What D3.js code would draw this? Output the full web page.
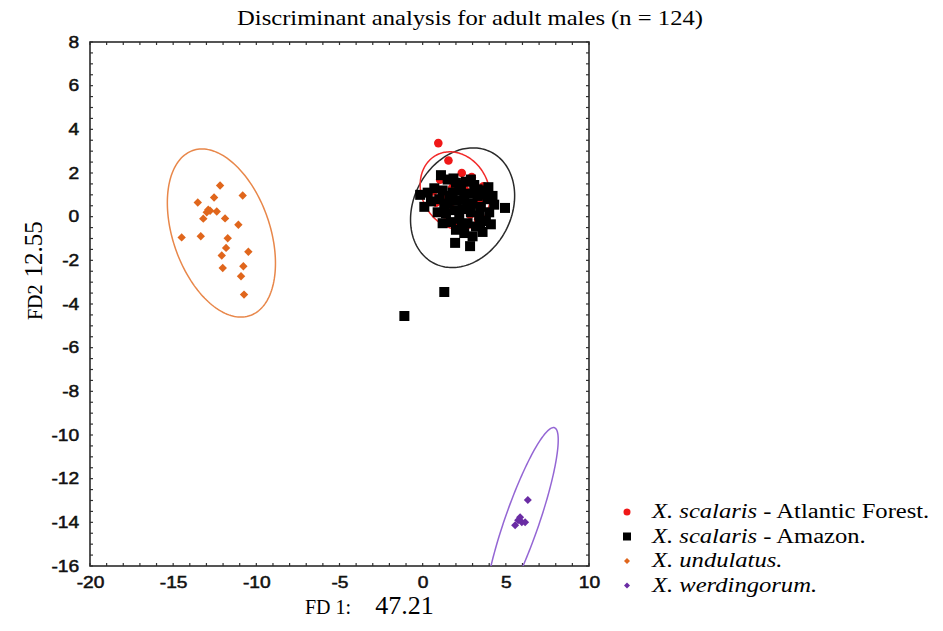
<!DOCTYPE html>
<html>
<head>
<meta charset="utf-8">
<script src="https://cdn.jsdelivr.net/npm/d3@7"></script>
<style>
  body { margin: 0; background: #fff; }
  svg { display: block; }
</style>
</head>
<body>
<script>

// ---- data ----
var atlantic = [
  [0.94, 3.37], [1.55, 2.57], [2.35, 2.0], [2.95, 1.81], [1.05, 1.69], [0.64, 1.16],
  [0.94, 0.78], [1.35, 1.0], [3.65, 1.39], [2.13, 0.18], [3.45, 0.78], [0.8, 0.64],
  [1.65, 0.55], [2.55, 1.23], [2.85, 0.09], [1.95, -0.37], [3.15, 1.0], [1.35, 0.1],
  [2.37, 0.78], [2.73, 1.6], [1.77, 1.32], [3.33, -0.14]
];

var amazon = [
  [-1.1, -4.55], [1.3, -3.45], [1.95, -1.2], [2.85, -1.35], [4.95, 0.4], [-0.15, 1.0],
  [0.1, 0.45], [1.1, 1.9], [1.5, 1.7], [2.0, 1.55], [2.6, 1.6], [3.1, 1.45], [3.6, 1.2],
  [0.7, 1.3], [1.2, 1.2], [1.8, 1.1], [2.3, 1.2], [2.8, 1.05], [3.3, 0.95], [3.9, 0.8],
  [4.3, 0.55], [0.5, 0.7], [1.0, 0.8], [1.5, 0.6], [2.0, 0.75], [2.5, 0.8], [3.0, 0.6],
  [3.5, 0.45], [4.0, 0.2], [0.9, 0.2], [1.4, 0.15], [1.9, 0.3], [2.4, 0.35], [2.9, 0.2],
  [3.4, 0.05], [3.8, -0.2], [1.2, -0.3], [1.7, -0.25], [2.2, -0.1], [2.7, -0.3],
  [3.2, -0.45], [3.6, -0.7], [2.0, -0.6], [2.5, -0.75], [3.0, -0.9], [1.6, 0.95],
  [2.2, 1.45], [2.7, 0.55], [3.3, 1.25], [0.3, 1.1], [3.7, 1.0], [4.2, 0.95], [1.3, 0.45],
  [2.35, -0.4], [3.45, -0.25], [2.9, 1.7], [1.85, 1.75], [4.1, -0.35], [3.95, 1.35]
];

var undulatus = [
  [-12.18, 1.43], [-10.82, 0.97], [-13.52, 0.65], [-12.54, 0.88], [-12.89, 0.32],
  [-12.98, 0.2], [-12.78, 0.27], [-12.38, 0.24], [-13.19, -0.09], [-11.88, -0.08],
  [-11.08, -0.37], [-14.49, -0.95], [-13.34, -0.9], [-11.72, -0.99], [-11.82, -1.43],
  [-10.48, -1.61], [-12.08, -1.78], [-10.78, -2.27], [-12.02, -2.35], [-10.92, -2.73],
  [-10.74, -3.57]
];

var werdingorum = [
  [6.32, -12.98], [5.86, -13.77], [5.96, -14.0], [5.56, -14.13], [6.16, -14.0], [5.74, -13.9]
];

// ellipses, same order as the series: centre, half extents, correlation
var ellipseCx = [1.95, 2.4, -12.1, 5.95];
var ellipseCy = [1.19, 0.41, -0.75, -14.0];
var ellipseRx = [2.1, 3.13, 3.25, 2.2];
var ellipseRy = [1.78, 2.74, 3.85, 4.34];
var ellipseR  = [-0.15, 0.2, -0.36, 0.87];

var legendItalic = ["X. scalaris", "X. scalaris", "X. undulatus.", "X. werdingorum."];
var legendPlain  = [" - Atlantic Forest.", " - Amazon.", "", ""];

var xTicks = [-20, -15, -10, -5, 0, 5, 10];
var yTicks = [8, 6, 4, 2, 0, -2, -4, -6, -8, -10, -12, -14, -16];

// ---- layout ----
var width = 943, height = 631;
var pLeft = 90, pTop = 42, pRight = 589, pBottom = 566;

var svg = d3.select("body").append("svg")
  .attr("width", width)
  .attr("height", height);

var x = d3.scaleLinear().domain([-20, 10]).range([pLeft, pRight]);
var y = d3.scaleLinear().domain([-16, 8]).range([pBottom, pTop]);

var colors = ["#f01818", "#000000", "#e0661c", "#6a2ca4"];
var lineColors = ["#f22a2a", "#2a2a2a", "#e8874a", "#9466d4"];

svg.append("defs").append("clipPath").attr("id", "plot")
  .append("rect")
  .attr("x", pLeft).attr("y", pTop)
  .attr("width", pRight - pLeft).attr("height", pBottom - pTop);

// title
svg.append("text")
  .attr("transform", "translate(470,25) scale(1.12,1)")
  .attr("text-anchor", "middle")
  .style("font-family", "'Liberation Serif', 'Times New Roman', serif")
  .style("font-size", "22px")
  .text("Discriminant analysis for adult males (n = 124)");

// minor ticks inside the frame
var ticks = svg.append("g").attr("stroke", "#333").attr("stroke-width", 1.2);
d3.range(-20, 10.01, 1).forEach(function(v) {
  ticks.append("line").attr("x1", x(v)).attr("x2", x(v)).attr("y1", pBottom).attr("y2", pBottom - 3);
  ticks.append("line").attr("x1", x(v)).attr("x2", x(v)).attr("y1", pTop).attr("y2", pTop + 3);
});
d3.range(-16, 8.01, 0.5).forEach(function(v) {
  ticks.append("line").attr("y1", y(v)).attr("y2", y(v)).attr("x1", pLeft).attr("x2", pLeft + 3);
  ticks.append("line").attr("y1", y(v)).attr("y2", y(v)).attr("x1", pRight).attr("x2", pRight - 3);
});

// axes (labels only)
var xAxis = svg.append("g")
  .attr("transform", "translate(0," + pBottom + ")")
  .call(d3.axisBottom(x).tickValues(xTicks).tickSize(0).tickPadding(11).tickFormat(String));
var yAxis = svg.append("g")
  .attr("transform", "translate(" + pLeft + ",0)")
  .call(d3.axisLeft(y).tickValues(yTicks).tickSize(0).tickPadding(10).tickFormat(String));

[xAxis, yAxis].forEach(function(a) {
  a.select(".domain").remove();
  a.selectAll("text")
    .style("font-family", "'Liberation Sans', Arial, sans-serif")
    .style("font-size", "16px")
    .attr("fill", "#111")
    .attr("stroke", "#111")
    .attr("stroke-width", 0.5);
});
xAxis.selectAll("text").attr("transform", "scale(1.2,1)");
yAxis.selectAll("text").attr("transform", "scale(1.2,1)").attr("x", -9);

// frame
svg.append("rect")
  .attr("x", pLeft).attr("y", pTop)
  .attr("width", pRight - pLeft).attr("height", pBottom - pTop)
  .attr("fill", "none")
  .attr("stroke", "#2b2b2b")
  .attr("stroke-width", 1.6);

var plot = svg.append("g").attr("clip-path", "url(#plot)");

// ellipses
var line = d3.line().curve(d3.curveLinearClosed);
function ellipse(i) {
  var r = ellipseR[i], s = Math.sqrt(1 - r * r);
  return d3.range(0, 360, 2).map(function(a) {
    var t = a * Math.PI / 180;
    return [
      x(ellipseCx[i] + ellipseRx[i] * Math.cos(t)),
      y(ellipseCy[i] + ellipseRy[i] * (r * Math.cos(t) + s * Math.sin(t)))
    ];
  });
}

plot.selectAll("path.ellipse")
  .data([2, 3, 1, 0])
  .enter()
  .append("path")
  .attr("class", "ellipse")
  .attr("d", function(i) { return line(ellipse(i)); })
  .attr("fill", "none")
  .attr("stroke", function(i) { return lineColors[i]; })
  .attr("stroke-width", 1.5);

function diamond(h) {
  return "M0," + (-h) + "L" + h + ",0L0," + h + "L" + (-h) + ",0Z";
}

// points
plot.append("g").selectAll("path")
  .data(undulatus).enter().append("path")
  .attr("d", diamond(4.2))
  .attr("transform", function(d) { return "translate(" + x(d[0]) + "," + y(d[1]) + ")"; })
  .attr("fill", colors[2]);

plot.append("g").selectAll("path")
  .data(werdingorum).enter().append("path")
  .attr("d", diamond(4))
  .attr("transform", function(d) { return "translate(" + x(d[0]) + "," + y(d[1]) + ")"; })
  .attr("fill", colors[3]);

plot.append("g").selectAll("circle")
  .data(atlantic).enter().append("circle")
  .attr("cx", function(d) { return x(d[0]); })
  .attr("cy", function(d) { return y(d[1]); })
  .attr("r", 4.3)
  .attr("fill", colors[0]);

plot.append("g").selectAll("rect")
  .data(amazon).enter().append("rect")
  .attr("x", function(d) { return x(d[0]) - 5; })
  .attr("y", function(d) { return y(d[1]) - 5; })
  .attr("width", 10).attr("height", 10)
  .attr("fill", colors[1]);

// axis titles
var xt = svg.append("text")
  .attr("x", 305).attr("y", 614)
  .style("font-family", "'Liberation Serif', 'Times New Roman', serif");
xt.append("tspan").style("font-size", "20px").text("FD 1:");
xt.append("tspan").attr("dx", 24).style("font-size", "26px").text("47.21");

var yt = svg.append("text")
  .attr("transform", "translate(42,320) rotate(-90)")
  .style("font-family", "'Liberation Serif', 'Times New Roman', serif");
yt.append("tspan").style("font-size", "20px").text("FD2");
yt.append("tspan").attr("dx", 7).style("font-size", "25px").text("12.55");

// legend
var legend = svg.append("g").selectAll("g")
  .data(legendItalic).enter().append("g")
  .attr("transform", function(d, i) { return "translate(627," + (512 + i * 24.5) + ")"; });

legend.each(function(d, i) {
  var g = d3.select(this);
  if (i == 0) g.append("circle").attr("r", 3.5).attr("fill", colors[0]);
  if (i == 1) g.append("rect").attr("x", -4).attr("y", -4).attr("width", 8).attr("height", 8).attr("fill", colors[1]);
  if (i == 2) g.append("path").attr("d", diamond(3)).attr("fill", colors[2]);
  if (i == 3) g.append("path").attr("d", diamond(3)).attr("fill", colors[3]);
  var t = g.append("text")
    .attr("transform", "translate(25,6) scale(1.23,1)")
    .style("font-family", "'Liberation Serif', 'Times New Roman', serif")
    .style("font-size", "20px");
  t.append("tspan").style("font-style", "italic").text(d);
  t.append("tspan").text(legendPlain[i]);
});

</script>
</body>
</html>
